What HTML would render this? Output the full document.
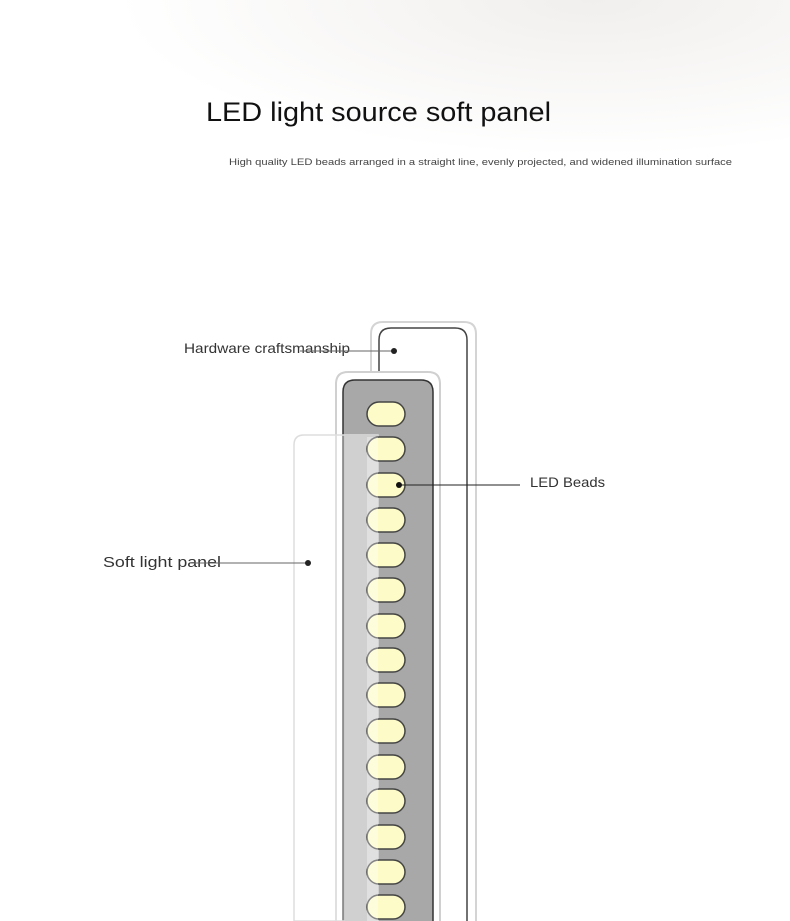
<!DOCTYPE html>
<html><head><meta charset="utf-8"><style>
html,body{margin:0;padding:0;background:#fff;}
svg{display:block;font-family:"Liberation Sans",sans-serif;}
</style></head><body>
<svg width="790" height="921" viewBox="0 0 790 921" xmlns="http://www.w3.org/2000/svg">
<defs>
<radialGradient id="g1" cx="0.75" cy="0" r="0.6"><stop offset="0" stop-color="#f1efed"/><stop offset="1" stop-color="#fff"/></radialGradient>
</defs>
<rect width="790" height="921" fill="#fff"/>
<rect width="790" height="260" fill="url(#g1)"/>
<text x="206" y="121" font-size="27" fill="#111" textLength="345" lengthAdjust="spacingAndGlyphs">LED light source soft panel</text>
<text x="229" y="165" font-size="9.5" fill="#444" textLength="503" lengthAdjust="spacingAndGlyphs">High quality LED beads arranged in a straight line, evenly projected, and widened illumination surface</text>

<path d="M371,921 V334 Q371,322 383,322 H464 Q476,322 476,334 V921" fill="none" stroke="#d4d4d4" stroke-width="2"/>
<path d="M379,921 V340 Q379,328 391,328 H455 Q467,328 467,340 V921" fill="#fff" stroke="#444" stroke-width="1.5"/>

<path d="M336,921 V384 Q336,372 348,372 H428 Q440,372 440,384 V921" fill="#fff" stroke="#d0d0d0" stroke-width="2"/>
<path d="M343,921 V392 Q343,380 355,380 H421 Q433,380 433,392 V921" fill="#a8a8a8" stroke="#333" stroke-width="1.5"/>

<path d="M294,921 V445 Q294,435 304,435 H378 V921 Z" fill="#fff" fill-opacity="0.35" stroke="#ddd" stroke-width="1.5"/>
<rect x="344.5" y="435" width="33.5" height="486" fill="#d0d0d0"/>

<g stroke="#444" stroke-width="1.5" fill="#fdfcc8">
<rect x="367" y="402" width="38" height="24" rx="12"/>
<rect x="367" y="437" width="38" height="24" rx="12"/>
<rect x="367" y="473" width="38" height="24" rx="12"/>
<rect x="367" y="508" width="38" height="24" rx="12"/>
<rect x="367" y="543" width="38" height="24" rx="12"/>
<rect x="367" y="578" width="38" height="24" rx="12"/>
<rect x="367" y="614" width="38" height="24" rx="12"/>
<rect x="367" y="648" width="38" height="24" rx="12"/>
<rect x="367" y="683" width="38" height="24" rx="12"/>
<rect x="367" y="719" width="38" height="24" rx="12"/>
<rect x="367" y="755" width="38" height="24" rx="12"/>
<rect x="367" y="789" width="38" height="24" rx="12"/>
<rect x="367" y="825" width="38" height="24" rx="12"/>
<rect x="367" y="860" width="38" height="24" rx="12"/>
<rect x="367" y="895" width="38" height="24" rx="12"/>
</g>
<rect x="367" y="437" width="11" height="484" fill="#fff" fill-opacity="0.35"/>

<text x="184" y="353" font-size="14" fill="#333" textLength="166" lengthAdjust="spacingAndGlyphs">Hardware craftsmanship</text>
<line x1="300" y1="351" x2="394" y2="351" stroke="#666" stroke-width="1"/>
<circle cx="394" cy="351" r="3" fill="#222"/>

<text x="530" y="487" font-size="14" fill="#333" textLength="75" lengthAdjust="spacingAndGlyphs">LED Beads</text>
<line x1="399" y1="485" x2="520" y2="485" stroke="#222" stroke-width="1"/>
<circle cx="399" cy="485" r="3" fill="#111"/>

<text x="103" y="567" font-size="15" fill="#333" textLength="118" lengthAdjust="spacingAndGlyphs">Soft light panel</text>
<line x1="190" y1="563" x2="308" y2="563" stroke="#666" stroke-width="1"/>
<circle cx="308" cy="563" r="3" fill="#222"/>
</svg>
</body></html>
